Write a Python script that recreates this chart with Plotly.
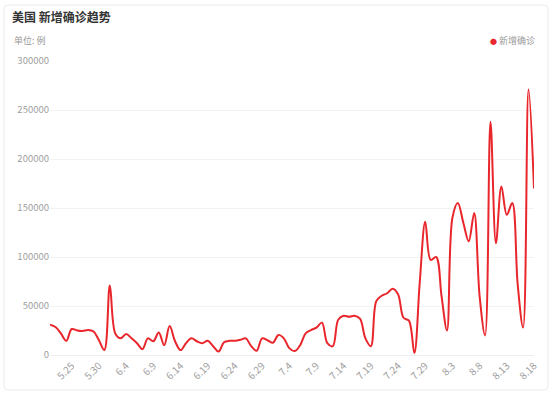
import plotly.graph_objects as go

dates = ["5.21", "5.22", "5.23", "5.24", "5.25", "5.26", "5.27", "5.28", "5.29", "5.30", "5.31",
         "6.1", "6.2", "6.3", "6.4", "6.5", "6.6", "6.7", "6.8", "6.9", "6.10",
         "6.11", "6.12", "6.13", "6.14", "6.15", "6.16", "6.17", "6.18", "6.19", "6.20",
         "6.21", "6.22", "6.23", "6.24", "6.25", "6.26", "6.27", "6.28", "6.29", "6.30",
         "7.1", "7.2", "7.3", "7.4", "7.5", "7.6", "7.7", "7.8", "7.9", "7.10",
         "7.11", "7.12", "7.13", "7.14", "7.15", "7.16", "7.17", "7.18", "7.19", "7.20",
         "7.21", "7.22", "7.23", "7.24", "7.25", "7.26", "7.27", "7.28", "7.29", "7.30", "7.31",
         "8.1", "8.2", "8.3", "8.4", "8.5", "8.6", "8.7", "8.8", "8.9", "8.10",
         "8.11", "8.12", "8.13", "8.14", "8.15", "8.16", "8.17", "8.18"]

new_cases = [31000, 28500, 22000, 14500, 26500, 25000, 24500, 25500, 24000, 15000, 5000,
             71000, 22000, 17000, 21500, 17000, 12000, 6000, 17000, 14000, 23000,
             10000, 29500, 14000, 5000, 12000, 17000, 14000, 12000, 14500, 9000,
             3500, 13000, 14500, 14500, 15500, 17000, 9000, 4300, 17000, 15000,
             12500, 20500, 17000, 7000, 4000, 10000, 22000, 25500, 28000, 33000,
             12000, 9000, 36000, 40000, 39000, 40000, 37000, 17000, 9000, 55000,
             60500, 63000, 67500, 62000, 38000, 35000, 2000, 75000, 136000, 97000, 100000,
             60000, 25000, 140000, 155000, 135000, 116000, 145000, 60000, 20000, 238000,
             114000, 172000, 143000, 155000, 72000, 28000, 271000, 170000]

tick_labels = ["5.25", "5.30", "6.4", "6.9", "6.14", "6.19", "6.24", "6.29", "7.4",
               "7.9", "7.14", "7.19", "7.24", "7.29", "8.3", "8.8", "8.13", "8.18"]

y_ticks = [0, 50000, 100000, 150000, 200000, 250000, 300000]

title_text = "美国 新增确诊趋势"
unit_text = "单位: 例"
series_name = "新增确诊"

RED = "#e8262c"
FONT = "Noto Sans CJK SC, Noto Sans, sans-serif"

fig = go.Figure()
fig.add_trace(go.Scatter(
    x=dates, y=new_cases, mode="lines", name=series_name,
    line=dict(color=RED, width=2, shape="spline", smoothing=1.0),
    showlegend=False, hoverinfo="skip",
))

W, H = 558, 397
ml, mr, mt, mb = 50, 24, 61, 42

card_path = ("M -42,350 L 494,350 Q 498,350 498,346 L 498,-31 Q 498,-35 494,-35 "
             "L -42,-35 Q -46,-35 -46,-31 L -46,346 Q -46,350 -42,350 Z")

fig.update_layout(
    width=W, height=H,
    margin=dict(l=ml, r=mr, t=mt, b=mb, pad=0),
    paper_bgcolor="white", plot_bgcolor="rgba(0,0,0,0)",
    font=dict(family=FONT, color="#999999", size=10),
    title=dict(text=title_text, x=12 / W, xanchor="left", y=1 - 18 / H, yanchor="middle",
               font=dict(family=FONT, size=12, color="#333333", weight="bold")),
    xaxis=dict(
        type="category", range=[0, len(dates) - 1],
        tickmode="array", tickvals=tick_labels, ticktext=tick_labels,
        tickangle=-45, tickfont=dict(size=10, color="#a0a0a0"),
        showgrid=False, showline=True, linecolor="#eeeeee", linewidth=1,
        ticks="", zeroline=False, fixedrange=True,
    ),
    yaxis=dict(
        range=[0, 300000], tickmode="array", tickvals=y_ticks,
        ticktext=[str(v) for v in y_ticks],
        tickfont=dict(size=9.5, color="#a0a0a0"),
        showgrid=True, gridcolor="#f3f3f3", gridwidth=1,
        zeroline=False, showline=False, ticks="", fixedrange=True,
    ),
    shapes=[dict(
        type="path", path=card_path, xref="paper", yref="paper",
        xsizemode="pixel", ysizemode="pixel", xanchor=0, yanchor=0,
        fillcolor="white", line=dict(color="#ebebeb", width=1), layer="below",
    )],
    annotations=[
        dict(text=unit_text, xref="paper", yref="paper",
             x=(12 - ml) / (W - ml - mr), y=(H - mb - 40) / (H - mt - mb),
             xanchor="left", yanchor="middle", showarrow=False,
             font=dict(family=FONT, size=9, color="#999999")),
        dict(text=f"<span style='color:{RED};font-size:7px'>●</span> {series_name}",
             xref="paper", yref="paper",
             x=(537 - ml) / (W - ml - mr), y=(H - mb - 41) / (H - mt - mb),
             xanchor="right", yanchor="middle", showarrow=False,
             font=dict(family=FONT, size=9, color="#999999")),
    ],
)

fig.write_html("out.html", config={"displayModeBar": False},
               post_script="document.body.style.margin='0px';")
